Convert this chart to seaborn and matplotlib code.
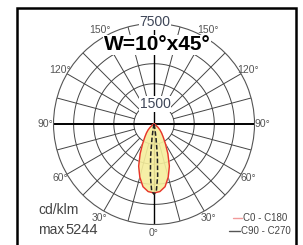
import numpy as np
import matplotlib.pyplot as plt
import seaborn as sns
from matplotlib.patches import Rectangle
from matplotlib.lines import Line2D

# photometric data (cd/klm) against gamma angle in degrees
gamma = [0, 5, 10, 15, 20, 25, 30, 35, 40, 45, 50, 60, 70, 80, 90]
c0_c180 = [5150, 5060, 4750, 4100, 3350, 2450, 1700, 1200, 880, 620, 380, 110, 30, 5, 0]
gamma_narrow = [0, 2, 4, 6, 8, 10, 15, 20, 90]
c90_c270 = [5244, 5000, 3900, 2400, 1100, 400, 60, 0, 0]
ring_values = [1500, 3000, 4500, 6000, 7500]
angle_labels = [0, 30, 60, 90, 120, 150]
max_value = 5244
title = "W=10°x45°"
legend_labels = ["C0 - C180", "C90 - C270"]

sns.set_style("white")
plt.rcParams["font.family"] = ["Liberation Sans", "DejaVu Sans"]

fig = plt.figure(figsize=(3.03, 2.45), dpi=100)
ax = fig.add_axes([0.1766, 0.0837, 0.6634, 0.8204], projection="polar")
ax.set_theta_zero_location("S")
ax.set_ylim(0, ring_values[-1])
ax.set_xticks([])
ax.set_yticks([])
ax.grid(False)
ax.spines["polar"].set_color("#555555")
ax.spines["polar"].set_linewidth(0.8)

grid_c = "#444444"
circle = np.linspace(0, 2 * np.pi, 361)
for v in ring_values[:-1]:
    ax.plot(circle, [v] * len(circle), color=grid_c, lw=0.7, zorder=1)
for a in range(0, 360, 15):
    if a % 90 == 0:
        continue
    t = np.deg2rad(a)
    ax.plot([t, t], [ring_values[0], ring_values[-1]], color=grid_c, lw=0.7, zorder=1)
# main axes through the centre
ax.plot([0, 0], [0, ring_values[-1]], color="black", lw=1.0, zorder=1)
ax.plot([np.pi, np.pi], [0, ring_values[-1]], color="black", lw=1.0, zorder=1)
ax.plot([np.pi / 2, np.pi / 2], [0, ring_values[-1]], color="black", lw=1.4, zorder=1)
ax.plot([-np.pi / 2, -np.pi / 2], [0, ring_values[-1]], color="black", lw=1.4, zorder=1)

# curves mirrored to both sides
th_w = np.deg2rad(np.concatenate([-np.array(gamma[::-1]), gamma]))
r_w = np.concatenate([c0_c180[::-1], c0_c180])
th_n = np.deg2rad(np.concatenate([-np.array(gamma_narrow[::-1]), gamma_narrow]))
r_n = np.concatenate([c90_c270[::-1], c90_c270])

ax.fill(th_w, r_w, color="#f6ee9c", alpha=0.9, zorder=2)
sns.lineplot(x=th_w, y=r_w, ax=ax, sort=False, estimator=None, color="#e8322e", lw=1.0, zorder=3)
sns.lineplot(x=th_n, y=r_n, ax=ax, sort=False, estimator=None, color="#222222", lw=1.1,
             linestyle=(0, (3, 1.5)), zorder=4)

lab_c = "#555555"
r_lab = ring_values[-1] * 1.08
for a in angle_labels:
    for s in ([1] if a == 0 else [1, -1]):
        ax.text(np.deg2rad(s * a), r_lab, f"{a}°", ha="center", va="center",
                fontsize=7.5, color=lab_c, clip_on=False)

ring_txt = dict(ha="center", va="center", fontsize=10, color="#3e4658", zorder=6,
                bbox=dict(facecolor="white", edgecolor="none", pad=0.5))
fig.text(155 / 303, 1 - 104 / 245, f"{ring_values[0]}", **ring_txt)
fig.text(155 / 303, 1 - 22 / 245, f"{ring_values[-1]}", **ring_txt)
fig.text(157 / 303, 1 - 45 / 245, title, ha="center", va="center", fontsize=15,
         fontweight="bold", color="black", zorder=7,
         bbox=dict(facecolor="white", edgecolor="none", pad=0.3))

fig.text(38 / 303, 1 - 210 / 245, "cd/klm", ha="left", va="center", fontsize=10, color="#444444")
fig.text(38 / 303, 1 - 230 / 245, "max", ha="left", va="center", fontsize=10, color="#444444")
fig.text(65 / 303, 1 - 230 / 245, f"{max_value}", ha="left", va="center", fontsize=10.5, color="#444444")

fig.add_artist(Line2D([233 / 303, 242 / 303], [1 - 218 / 245] * 2, color="#f29a9a", lw=1.0))
fig.add_artist(Line2D([229 / 303, 240 / 303], [1 - 231 / 245] * 2, color="#555555", lw=1.0))
fig.text(243 / 303, 1 - 218 / 245, legend_labels[0], ha="left", va="center", fontsize=7, color="#444444")
fig.text(241 / 303, 1 - 231 / 245, legend_labels[1], ha="left", va="center", fontsize=7, color="#444444")

fig.add_artist(Rectangle((17 / 303, -0.2), 279 / 303, 1.2 - 8 / 245, transform=fig.transFigure,
                         fill=False, edgecolor="black", lw=1.8))

fig.savefig("out.png", dpi=100)
